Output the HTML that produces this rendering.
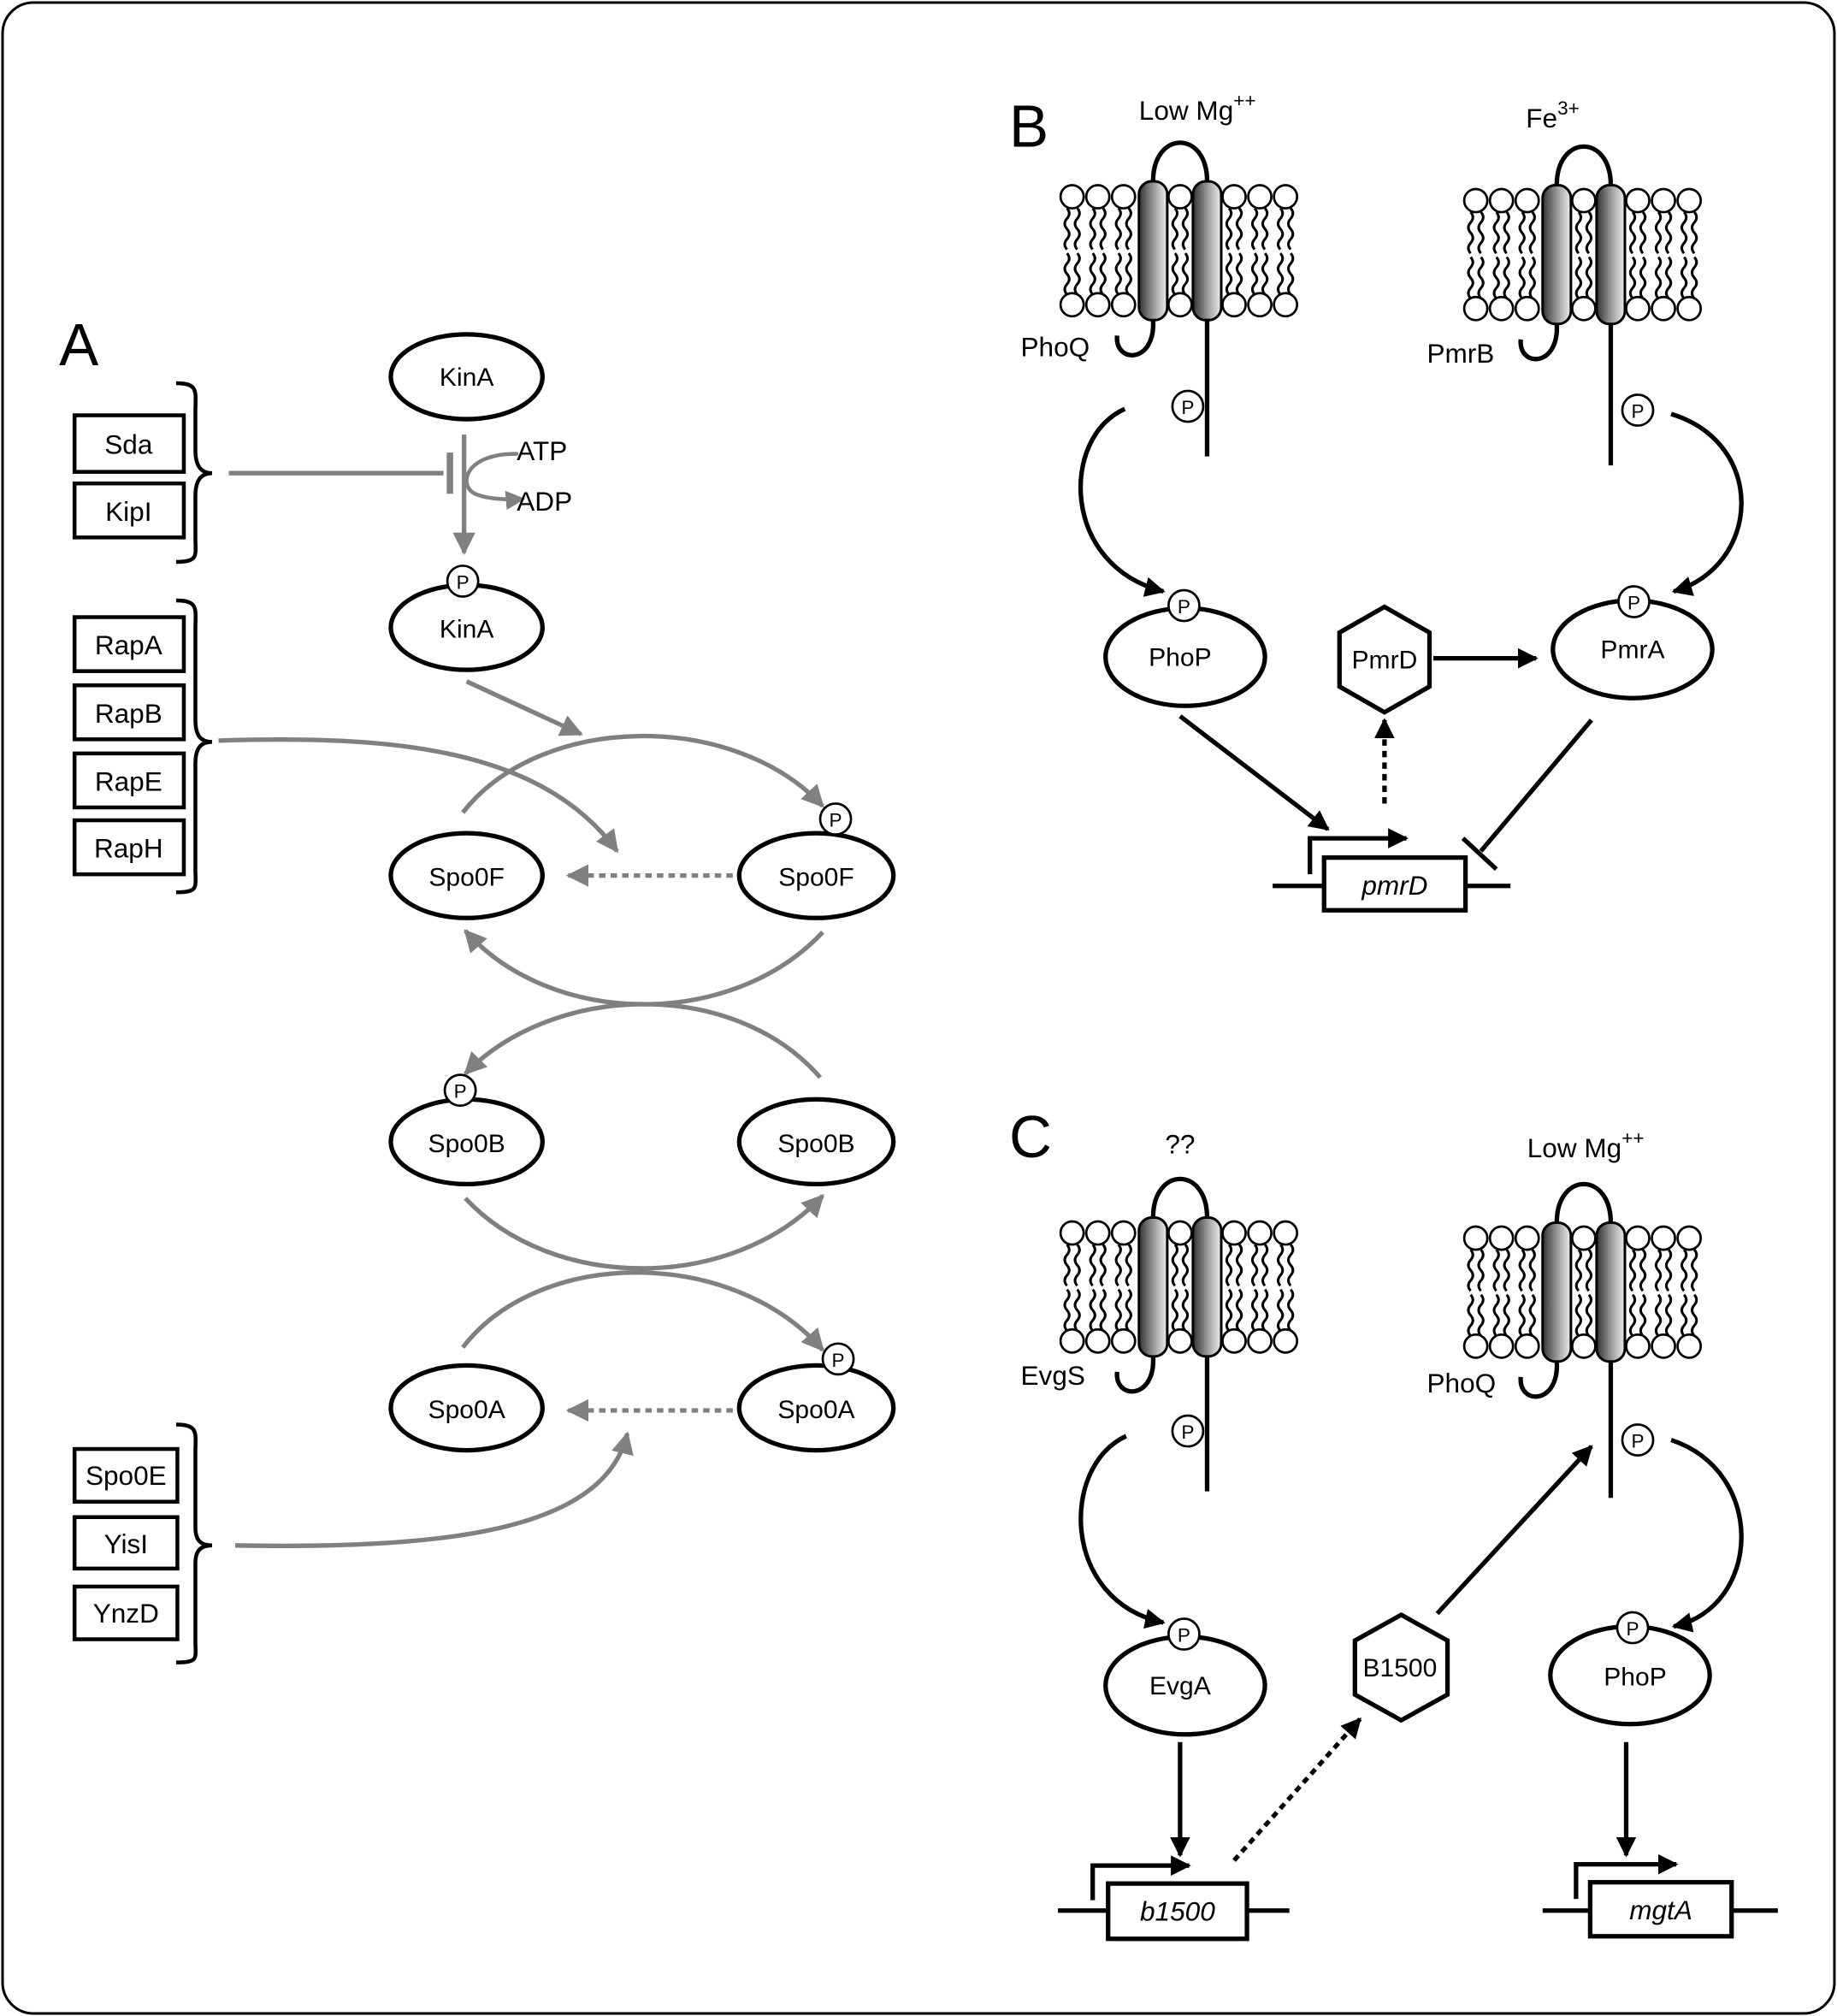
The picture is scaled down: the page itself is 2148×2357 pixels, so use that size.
<!DOCTYPE html>
<html><head><meta charset="utf-8"><style>
html,body{margin:0;padding:0;background:#fff}
svg{display:block}
text{font-family:"Liberation Sans",Arial,sans-serif}
</style></head><body>
<svg width="2148" height="2357" viewBox="0 0 1429 1568" xmlns="http://www.w3.org/2000/svg">
<defs>
<linearGradient id="hg" x1="0" x2="1" y1="0" y2="0">
<stop offset="0" stop-color="#333"/><stop offset="0.6" stop-color="#aaa"/><stop offset="1" stop-color="#eee"/>
</linearGradient>
<marker id="ag" viewBox="0 0 10 10" refX="9" refY="5" markerWidth="5" markerHeight="5" orient="auto" markerUnits="strokeWidth"><path d="M0,0 L10,5 L0,10 z" fill="#808080"/></marker>
<marker id="ab" viewBox="0 0 10 10" refX="9" refY="5" markerWidth="4.5" markerHeight="4.5" orient="auto" markerUnits="strokeWidth"><path d="M0,0 L10,5 L0,10 z" fill="#000"/></marker>
<path id="wig" d="M0,0 q3.5,4 0,8 q-3.5,4 0,8 q3.5,4 0,8 q-3.5,4 0,8" fill="none" stroke="#000" stroke-width="2"/>
<g id="lipid">
<use href="#wig" x="-4" y="9"/><use href="#wig" x="4" y="9"/>
<use href="#wig" x="-4" y="44"/><use href="#wig" x="4" y="44"/>
<circle cx="0" cy="0" r="9" fill="#fff" stroke="#000" stroke-width="1.8"/>
<circle cx="0" cy="84" r="9" fill="#fff" stroke="#000" stroke-width="1.8"/>
</g>
<g id="mem">
<use href="#lipid" x="-63"/><use href="#lipid" x="-43"/><use href="#lipid" x="-23"/>
<use href="#lipid" x="21"/>
<use href="#lipid" x="63"/><use href="#lipid" x="83"/><use href="#lipid" x="103"/>
<path d="M0,-12 C0,-52 42,-52 42,-12" fill="none" stroke="#000" stroke-width="3.5"/>
<path d="M0,96 C2,130 -30,130 -28,108" fill="none" stroke="#000" stroke-width="3.5"/>
<rect x="-11" y="-12" width="22" height="108" rx="10" fill="url(#hg)" stroke="#000" stroke-width="2"/>
<rect x="31" y="-12" width="22" height="108" rx="10" fill="url(#hg)" stroke="#000" stroke-width="2"/>
</g>
</defs>
<rect x="2" y="2" width="1425" height="1564" rx="24" fill="#fff" stroke="#000" stroke-width="2"/>

<!-- Panel A -->
<text x="46" y="284" font-size="46">A</text>
<g fill="#fff" stroke="#000" stroke-width="3">
<rect x="58" y="323" width="85" height="44"/><rect x="58" y="376" width="85" height="42"/>
<rect x="58" y="480" width="85" height="42"/><rect x="58" y="533" width="85" height="42"/>
<rect x="58" y="586" width="85" height="42"/><rect x="58" y="638" width="85" height="42"/>
<rect x="58" y="1127" width="80" height="41"/><rect x="58" y="1180" width="80" height="40"/><rect x="58" y="1234" width="80" height="41"/>
</g>
<g font-size="21" text-anchor="middle">
<text x="100" y="353">Sda</text><text x="100" y="405">KipI</text>
<text x="100" y="509">RapA</text><text x="100" y="562">RapB</text><text x="100" y="615">RapE</text><text x="100" y="667">RapH</text>
<text x="98" y="1155">Spo0E</text><text x="98" y="1208">YisI</text><text x="98" y="1262">YnzD</text>
</g>
<g fill="none" stroke="#000" stroke-width="3">
<path d="M137,298 C155,298 152,305 152,320 L152,350 C152,362 156,368 165,368 C156,368 152,374 152,386 L152,418 C152,432 155,437 137,437"/>
<path d="M137,467 C155,467 152,474 152,490 L152,560 C152,572 156,577 165,577 C156,577 152,582 152,594 L152,676 C152,690 155,694 137,694"/>
<path d="M137,1108 C155,1108 152,1115 152,1130 L152,1188 C152,1198 156,1202 165,1202 C156,1202 152,1206 152,1216 L152,1276 C152,1290 155,1293 137,1293"/>
</g>
<g fill="none" stroke="#808080" stroke-width="3.5">
<path d="M178,368 L345,368"/><path d="M350,352 L350,384" stroke-width="5"/>
<path d="M361,338 L361,430" marker-end="url(#ag)"/>
<path d="M403,353 C360,352 355,380 372,385 C380,388 395,389 407,388" stroke-width="3" marker-end="url(#ag)"/>
<path d="M363,530 L452,571" marker-end="url(#ag)"/>
<path d="M360,632 C420,555 570,552 640,627" marker-end="url(#ag)"/>
<path d="M170,576 C300,572 420,580 480,662" marker-end="url(#ag)"/>
<path d="M570,681 L442,681" stroke-dasharray="5,4" marker-end="url(#ag)"/>
<path d="M640,725 C570,800 430,800 362,724" marker-end="url(#ag)"/>
<path d="M638,838 C570,760 430,765 362,835" marker-end="url(#ag)"/>
<path d="M362,932 C430,1005 570,1005 640,930" marker-end="url(#ag)"/>
<path d="M360,1048 C420,970 570,970 640,1050" marker-end="url(#ag)"/>
<path d="M570,1097 L442,1097" stroke-dasharray="5,4" marker-end="url(#ag)"/>
<path d="M183,1202 C350,1205 470,1190 488,1115" marker-end="url(#ag)"/>
</g>
<g fill="#fff" stroke="#000" stroke-width="3.5">
<ellipse cx="363" cy="293" rx="59" ry="33"/>
<ellipse cx="363" cy="488" rx="59" ry="33"/>
<ellipse cx="363" cy="681" rx="59" ry="33"/><ellipse cx="635" cy="681" rx="60" ry="33"/>
<ellipse cx="363" cy="888" rx="59" ry="33"/><ellipse cx="635" cy="888" rx="60" ry="33"/>
<ellipse cx="363" cy="1095" rx="59" ry="33"/><ellipse cx="635" cy="1095" rx="60" ry="33"/>
</g>
<g fill="#fff" stroke="#000" stroke-width="1.8">
<circle cx="360" cy="452" r="12"/><circle cx="650" cy="637" r="12"/><circle cx="358" cy="848" r="12"/><circle cx="652" cy="1057" r="12"/>
</g>
<g font-size="15" text-anchor="middle">
<text x="360" y="458">P</text><text x="650" y="643">P</text><text x="358" y="854">P</text><text x="652" y="1063">P</text>
</g>
<g font-size="20" text-anchor="middle">
<text x="363" y="300">KinA</text><text x="363" y="496">KinA</text>
<text x="363" y="689">Spo0F</text><text x="635" y="689">Spo0F</text>
<text x="363" y="896">Spo0B</text><text x="635" y="896">Spo0B</text>
<text x="363" y="1103">Spo0A</text><text x="635" y="1103">Spo0A</text>
</g>
<text x="402" y="358" font-size="21">ATP</text><text x="402" y="397" font-size="21">ADP</text>

<!-- Membranes -->
<use href="#mem" x="897" y="153"/>
<use href="#mem" x="1211" y="156"/>
<use href="#mem" x="897" y="959"/>
<use href="#mem" x="1211" y="963"/>
<g stroke="#000" stroke-width="3.5">
<line x1="939" y1="248" x2="939" y2="355"/>
<line x1="1253" y1="251" x2="1253" y2="362"/>
<line x1="939" y1="1054" x2="939" y2="1160"/>
<line x1="1253" y1="1058" x2="1253" y2="1165"/>
</g>

<!-- Panel B -->
<text x="785" y="114" font-size="46">B</text>
<text x="886" y="93" font-size="21">Low Mg<tspan font-size="15" dy="-10">++</tspan></text>
<text x="1187" y="99" font-size="21">Fe<tspan font-size="15" dy="-10">3+</tspan></text>
<text x="794" y="277" font-size="21">PhoQ</text>
<text x="1110" y="282" font-size="21">PmrB</text>
<g fill="none" stroke="#000" stroke-width="3.5">
<path d="M875,318 C825,340 825,440 905,460" marker-end="url(#ab)"/>
<path d="M1300,322 C1375,345 1370,440 1302,460" marker-end="url(#ab)"/>
<path d="M1115,512 L1195,512" marker-end="url(#ab)"/>
<path d="M918,557 L1033,645" marker-end="url(#ab)"/>
<path d="M1077,625 L1077,560" stroke-dasharray="5,4" marker-end="url(#ab)"/>
<path d="M1238,560 L1152,662"/><path d="M1138,652 L1164,676"/>
<path d="M990,689 L1175,689"/>
<path d="M1019,680 L1019,652 L1094,652" stroke-width="3.5" marker-end="url(#ab)"/>
</g>
<rect x="1030" y="667" width="110" height="41" fill="#fff" stroke="#000" stroke-width="3.5"/>
<text x="1085" y="696" font-size="21" font-style="italic" text-anchor="middle">pmrD</text>
<g fill="#fff" stroke="#000" stroke-width="3.5">
<ellipse cx="922" cy="511" rx="62" ry="38"/><ellipse cx="1270" cy="505" rx="62" ry="38"/>
<polygon points="1077,472 1112,492 1112,534 1077,554 1042,534 1042,492"/>
</g>
<g fill="#fff" stroke="#000" stroke-width="1.8">
<circle cx="924" cy="316" r="12"/><circle cx="1274" cy="319" r="12"/><circle cx="921" cy="471" r="12"/><circle cx="1271" cy="468" r="12"/>
</g>
<g font-size="15" text-anchor="middle">
<text x="924" y="322">P</text><text x="1274" y="325">P</text><text x="921" y="477">P</text><text x="1271" y="474">P</text>
</g>
<g font-size="20" text-anchor="middle">
<text x="918" y="518">PhoP</text><text x="1270" y="512">PmrA</text><text x="1077" y="520">PmrD</text>
</g>

<!-- Panel C -->
<text x="785" y="900" font-size="46">C</text>
<text x="918" y="897" font-size="21" text-anchor="middle">??</text>
<text x="1188" y="900" font-size="21">Low Mg<tspan font-size="15" dy="-10">++</tspan></text>
<text x="794" y="1077" font-size="21">EvgS</text>
<text x="1110" y="1083" font-size="21">PhoQ</text>
<g fill="none" stroke="#000" stroke-width="3.5">
<path d="M876,1117 C825,1140 825,1245 905,1262" marker-end="url(#ab)"/>
<path d="M1300,1120 C1375,1145 1370,1250 1302,1265" marker-end="url(#ab)"/>
<path d="M918,1355 L918,1443" marker-end="url(#ab)"/>
<path d="M960,1447 L1058,1337" stroke-dasharray="5,4" marker-end="url(#ab)"/>
<path d="M1118,1255 L1238,1125" marker-end="url(#ab)"/>
<path d="M1265,1355 L1265,1443" marker-end="url(#ab)"/>
<path d="M823,1486 L1003,1486"/><path d="M1200,1486 L1383,1486"/>
<path d="M850,1478 L850,1451 L925,1451" stroke-width="3.5" marker-end="url(#ab)"/>
<path d="M1226,1477 L1226,1450 L1304,1450" stroke-width="3.5" marker-end="url(#ab)"/>
</g>
<rect x="862" y="1465" width="108" height="43" fill="#fff" stroke="#000" stroke-width="3.5"/>
<rect x="1237" y="1464" width="110" height="42" fill="#fff" stroke="#000" stroke-width="3.5"/>
<text x="916" y="1494" font-size="21" font-style="italic" text-anchor="middle">b1500</text>
<text x="1292" y="1493" font-size="21" font-style="italic" text-anchor="middle">mgtA</text>
<g fill="#fff" stroke="#000" stroke-width="3.5">
<ellipse cx="922" cy="1311" rx="62" ry="38"/><ellipse cx="1268" cy="1303" rx="62" ry="38"/>
<polygon points="1090,1256 1126,1276 1126,1318 1090,1338 1054,1318 1054,1276"/>
</g>
<g fill="#fff" stroke="#000" stroke-width="1.8">
<circle cx="924" cy="1113" r="12"/><circle cx="1274" cy="1120" r="12"/><circle cx="921" cy="1271" r="12"/><circle cx="1270" cy="1266" r="12"/>
</g>
<g font-size="15" text-anchor="middle">
<text x="924" y="1119">P</text><text x="1274" y="1126">P</text><text x="921" y="1277">P</text><text x="1270" y="1272">P</text>
</g>
<g font-size="20" text-anchor="middle">
<text x="918" y="1318">EvgA</text><text x="1272" y="1311">PhoP</text><text x="1089" y="1304">B1500</text>
</g>
</svg>
</body></html>
